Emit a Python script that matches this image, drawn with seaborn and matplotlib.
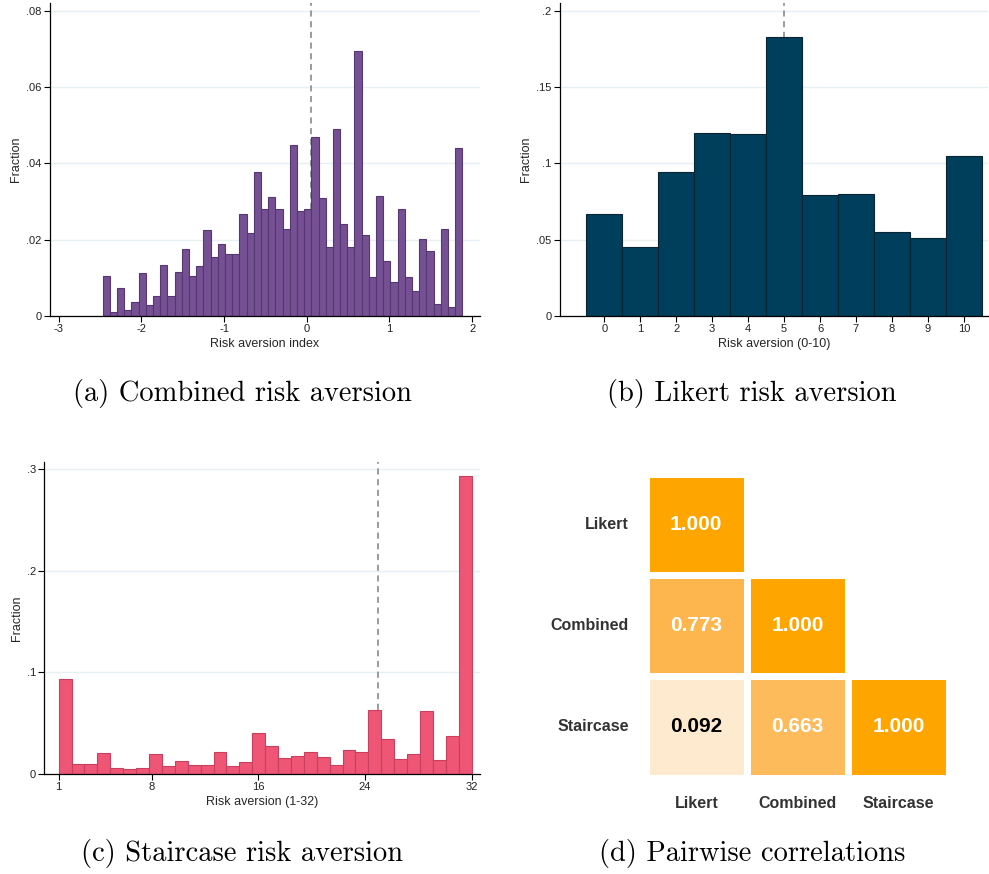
import numpy as np
import pandas as pd
import matplotlib
matplotlib.use("Agg")
import matplotlib.pyplot as plt
from matplotlib.colors import LinearSegmentedColormap
import seaborn as sns

# ---------------- data ----------------
# (a) combined risk aversion index: 50 equal-width bins
combined_range = (-2.467, 1.882)
combined_fraction = [
    0.0105, 0.0009, 0.0074, 0.0016, 0.0035, 0.0111, 0.0028, 0.0051, 0.0132, 0.0051,
    0.0114, 0.0174, 0.0104, 0.0130, 0.0225, 0.0153, 0.0189, 0.0163, 0.0161, 0.0268,
    0.0216, 0.0376, 0.0279, 0.0311, 0.0279, 0.0227, 0.0447, 0.0275, 0.0279, 0.0468,
    0.0310, 0.0181, 0.0490, 0.0241, 0.0180, 0.0695, 0.0211, 0.0102, 0.0315, 0.0144,
    0.0088, 0.0280, 0.0102, 0.0065, 0.0202, 0.0170, 0.0032, 0.0228, 0.0023, 0.0440,
]
combined_median = 0.05
combined_xticks = [-3, -2, -1, 0, 1, 2]
combined_yticks = [0, 0.02, 0.04, 0.06, 0.08]
combined_yticklabels = ["0", ".02", ".04", ".06", ".08"]

# (b) Likert risk aversion, answers 0-10
likert_values = list(range(11))
likert_fraction = [0.067, 0.045, 0.094, 0.120, 0.119, 0.183, 0.079, 0.080, 0.055, 0.051, 0.105]
likert_median = 5
likert_yticks = [0, 0.05, 0.10, 0.15, 0.20]
likert_yticklabels = ["0", ".05", ".1", ".15", ".2"]

# (c) staircase risk aversion, 32 bins over 1-32
staircase_range = (1, 32)
staircase_fraction = [
    0.0937, 0.0102, 0.0102, 0.0206, 0.0055, 0.0045, 0.0055, 0.0201, 0.0078, 0.0128,
    0.0092, 0.0085, 0.0221, 0.0078, 0.0120, 0.0405, 0.0280, 0.0157, 0.0180, 0.0216,
    0.0166, 0.0086, 0.0234, 0.0214, 0.0631, 0.0342, 0.0148, 0.0194, 0.0615, 0.0138,
    0.0378, 0.2928,
]
staircase_median = 25
staircase_xticks = [1, 8, 16, 24, 32]
staircase_yticks = [0, 0.1, 0.2, 0.3]
staircase_yticklabels = ["0", ".1", ".2", ".3"]

# (d) pairwise correlations
measures = ["Likert", "Combined", "Staircase"]
corr_likert = [1.000, 0.773, 0.092]
corr_combined = [0.773, 1.000, 0.663]
corr_staircase = [0.092, 0.663, 1.000]

captions = ["(a) Combined risk aversion", "(b) Likert risk aversion",
            "(c) Staircase risk aversion", "(d) Pairwise correlations"]

# ---------------- style ----------------
sns.set_theme(style="white")
plt.rcParams["font.family"] = ["Liberation Sans", "DejaVu Sans"]
plt.rcParams["axes.unicode_minus"] = False

PURPLE, PURPLE_EDGE = "#755093", "#553872"
NAVY, NAVY_EDGE = "#003f5c", "#0b2433"
PINK, PINK_EDGE = "#ef5675", "#c9405e"
GRID = "#e6eff1"

W, H = 989, 874
fig = plt.figure(figsize=(W / 100, H / 100), dpi=100)


def rect(x0, y0, x1, y1):
    return [x0 / W, 1 - y1 / H, (x1 - x0) / W, (y1 - y0) / H]


def style_hist(ax, xlabel, yticks, yticklabels, xlim, ylim):
    ax.set_xlim(*xlim)
    ax.set_ylim(*ylim)
    ax.set_yticks(yticks)
    ax.set_yticklabels(yticklabels)
    ax.set_xlabel(xlabel, fontsize=9, labelpad=3)
    ax.set_ylabel("Fraction", fontsize=9, labelpad=3)
    ax.tick_params(axis="both", labelsize=8, length=4, width=0.8, pad=2,
                   direction="out", color="black", left=True, bottom=True)
    for t in ax.get_xticklabels() + ax.get_yticklabels():
        t.set_color("#222222")
    ax.yaxis.grid(True, color=GRID, linewidth=1.0)
    ax.xaxis.grid(False)
    ax.set_axisbelow(True)
    sns.despine(ax=ax)
    for s in ("left", "bottom"):
        ax.spines[s].set_color("black")
        ax.spines[s].set_linewidth(0.9)


def draw_hist(ax, centers, fractions, edges, color, edgecolor, median):
    df = pd.DataFrame({"value": np.asarray(centers, dtype=float),
                       "fraction": np.asarray(fractions, dtype=float)})
    ax.axvline(median, color="#808080", linestyle=(0, (4, 3)), linewidth=1.1, zorder=1)
    sns.histplot(data=df, x="value", weights="fraction", bins=list(edges), ax=ax,
                 color=color, edgecolor=edgecolor, linewidth=0.8, alpha=1)
    for p in ax.patches:
        p.set_zorder(2)


# (a) combined index
ax_a = fig.add_axes(rect(50, 3.3, 480, 315.7))
edges_a = np.linspace(combined_range[0], combined_range[1], len(combined_fraction) + 1)
centers_a = (edges_a[:-1] + edges_a[1:]) / 2
draw_hist(ax_a, centers_a, combined_fraction, edges_a, PURPLE, PURPLE_EDGE, combined_median)
ax_a.set_xticks(combined_xticks)
ax_a.set_xticklabels([str(v) for v in combined_xticks])
style_hist(ax_a, "Risk aversion index", combined_yticks, combined_yticklabels,
           (-3.104, 2.095), (0, 0.082))

# (b) Likert
ax_b = fig.add_axes(rect(560, 3.3, 988.3, 315.7))
edges_b = np.arange(len(likert_values) + 1) - 0.5
draw_hist(ax_b, likert_values, likert_fraction, edges_b, NAVY, NAVY_EDGE, likert_median)
ax_b.set_xticks(likert_values)
ax_b.set_xticklabels([str(v) for v in likert_values])
style_hist(ax_b, "Risk aversion (0-10)", likert_yticks, likert_yticklabels,
           (-1.23, 10.68), (0, 0.205))

# (c) staircase
ax_c = fig.add_axes(rect(44.3, 461.7, 480, 774))
edges_c = np.linspace(staircase_range[0], staircase_range[1], len(staircase_fraction) + 1)
centers_c = (edges_c[:-1] + edges_c[1:]) / 2
draw_hist(ax_c, centers_c, staircase_fraction, edges_c, PINK, PINK_EDGE, staircase_median)
ax_c.set_xticks(staircase_xticks)
ax_c.set_xticklabels([str(v) for v in staircase_xticks])
style_hist(ax_c, "Risk aversion (1-32)", staircase_yticks, staircase_yticklabels,
           (-0.08, 32.63), (0, 0.307))

# (d) correlation heatmap, lower triangle
ax_d = fig.add_axes(rect(645.7, 474, 949.2, 777.5))
corr = pd.DataFrame({"Likert": corr_likert, "Combined": corr_combined,
                     "Staircase": corr_staircase}, index=measures)[measures]
mask = np.triu(np.ones(corr.shape, dtype=bool), k=1)
cmap = LinearSegmentedColormap.from_list(
    "orange_seq",
    [(0.0, "#fff2de"), (0.1, "#feeacd"), (0.66, "#fdbb5c"),
     (0.78, "#fdb54c"), (1.0, "#ffa500")])
sns.heatmap(corr, mask=mask, cmap=cmap, vmin=0, vmax=1, annot=True, fmt=".3f",
            annot_kws={"fontsize": 15, "fontweight": "bold"},
            linewidths=4.7, linecolor="white", cbar=False, square=False, ax=ax_d)
for txt in ax_d.texts:
    txt.set_color("white" if float(txt.get_text()) > 0.5 else "black")
ax_d.tick_params(axis="y", length=0, pad=12)
ax_d.tick_params(axis="x", length=0, pad=13)
ax_d.set_xticklabels(measures, rotation=0, fontsize=11.5, fontweight="bold", color="#333333")
ax_d.set_yticklabels(measures, rotation=0, fontsize=11.5, fontweight="bold", color="#333333")
ax_d.set_xlabel("")
ax_d.set_ylabel("")

# panel captions
for (cx, cy), text in zip([(242, 394), (752, 394), (242, 853), (752, 853)], captions):
    fig.text(cx / W, 1 - cy / H, text, ha="center", va="center",
             fontsize=20.5, family="cmr10", color="black")

fig.savefig("out.png", dpi=100)
